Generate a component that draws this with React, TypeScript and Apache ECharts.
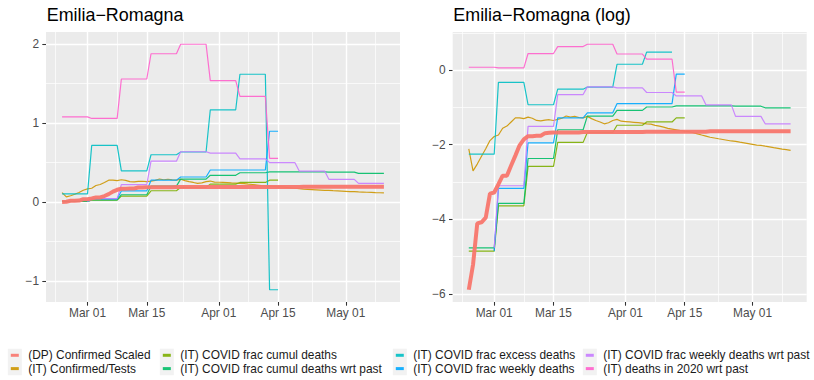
import React, { useEffect, useRef } from 'react';
import * as echarts from 'echarts';

// ---------- data ----------
const ORIGIN_DATE = '2020-03-01';
const FIRST_DATE = '2020-02-24';
const LAST_DATE = '2020-05-10';
const DEATHS_LAST_DATE = '2020-04-15';
const WEEKLY_FIRST_DATE = '2020-03-01';

const tickDates = ['2020-03-01', '2020-03-15', '2020-04-01', '2020-04-15', '2020-05-01'];
const tickLabels = ['Mar 01', 'Mar 15', 'Apr 01', 'Apr 15', 'May 01'];
const outerBreakDates = ['2020-02-15', '2020-05-15'];

const weekStartDates = [
  '2020-02-24', '2020-03-02', '2020-03-09', '2020-03-16', '2020-03-23', '2020-03-30',
  '2020-04-06', '2020-04-13', '2020-04-20', '2020-04-27', '2020-05-04',
];

const linTicks = [-1, 0, 1, 2];
const linMinor = [-0.5, 0.5, 1.5];
const logTicks = [-6, -4, -2, 0];
const logMinor = [-5, -3, -1, 1];

const seriesNames = [
  '(DP) Confirmed Scaled',
  '(IT) Confirmed/Tests',
  '(IT) COVID frac cumul deaths',
  '(IT) COVID frac cumul deaths wrt past',
  '(IT) COVID frac excess deaths',
  '(IT) COVID frac weekly deaths',
  '(IT) COVID frac weekly deaths wrt past',
  '(IT) deaths in 2020 wrt past',
];
const seriesColors = ['#F8766D', '#CD9600', '#7CAE00', '#00BE67', '#00BFC4', '#00A9FF', '#C77CFF', '#FF61CC'];

// daily, 2020-02-24 .. 2020-05-10
const confirmedScaled = [
  0.00277, 0.00541, 0.0164, 0.0169, 0.0191, 0.0365, 0.0376, 0.0469, 0.059, 0.059,
  0.0773, 0.101, 0.133, 0.156, 0.170, 0.170, 0.172, 0.172, 0.1845, 0.1864,
  0.1883, 0.1883, 0.1883, 0.1883, 0.1883, 0.1883, 0.1883,
  0.1901, 0.1901, 0.1901, 0.1901, 0.1901, 0.1901, 0.1901, 0.1901, 0.1901, 0.1901,
  0.1901, 0.1901, 0.1901, 0.1901, 0.1901,
  0.1920, 0.1920, 0.1920, 0.1920, 0.1920, 0.1920, 0.1920, 0.1920, 0.1920, 0.1920,
  0.1920, 0.1920, 0.1920, 0.1920, 0.1920,
  0.1940, 0.1940, 0.1940, 0.1940, 0.1940, 0.1940, 0.1940, 0.1940, 0.1940, 0.1940,
  0.1940, 0.1940, 0.1940, 0.1940, 0.1940, 0.1940, 0.1940, 0.1940, 0.1940, 0.1940,
];
const confirmedPerTests = [
  0.1212, 0.0672, 0.0805, 0.0993, 0.1212, 0.1511, 0.1686, 0.1755, 0.2101, 0.2231,
  0.2491, 0.2780, 0.2780, 0.2725, 0.2837, 0.2753, 0.2592, 0.2567, 0.2618, 0.2645,
  0.2592, 0.2671, 0.2753, 0.2923, 0.2837, 0.2894, 0.2808, 0.2780, 0.2894, 0.2725,
  0.2592, 0.2491, 0.2369, 0.2441, 0.2592, 0.2671, 0.2541, 0.2516, 0.2491, 0.2466,
  0.2441, 0.2417, 0.2369, 0.2346, 0.2276, 0.2231, 0.2165, 0.2101, 0.2060, 0.2019,
  0.1979, 0.1940, 0.1920, 0.1864, 0.1809, 0.1755, 0.1703, 0.1653, 0.1620, 0.1588,
  0.1557, 0.1526, 0.1496, 0.1481, 0.1451, 0.1423, 0.1395, 0.1367, 0.1340, 0.1327,
  0.1300, 0.1275, 0.1249, 0.1225, 0.1200, 0.1188, 0.1165,
];
// weekly values, one per week starting at weekStartDates
const covidFracCumulDeaths = [0.0078, 0.0263, 0.0758, 0.144, 0.188, 0.228, 0.249, 0.278];
const covidFracCumulDeathsWrtPast = [0.0085, 0.028, 0.0935, 0.202, 0.291, 0.34, 0.372, 0.383, 0.383, 0.38, 0.364];
const covidFracExcessDeaths = [0.105, 0.72, 0.395, 0.6, 0.635, 1.17, 1.62, -1.11];
const covidFracWeeklyDeaths = [0.0078, 0.042, 0.142, 0.278, 0.318, 0.407, 0.407, 0.898];
const covidFracWeeklyDeathsWrtPast = [0.0085, 0.045, 0.221, 0.519, 0.638, 0.62, 0.549, 0.5, 0.394, 0.289, 0.237];
const deathsIn2020WrtPast = [1.08, 1.06, 1.56, 1.88, 2.0, 1.54, 1.34, 0.555];

// ---------- helpers ----------
const FONT = "'Liberation Sans', Arial, Helvetica, sans-serif";
const dayOf = (d: string) => (Date.parse(d + 'T00:00:00Z') - Date.parse(ORIGIN_DATE + 'T00:00:00Z')) / 86400000;

function dailyPoints(values: number[], first: string): number[][] {
  const d0 = dayOf(first);
  return values.map((v, i) => [d0 + i, v]);
}
function weeklyPoints(values: number[], first: string, last: string): number[][] {
  const f = dayOf(first);
  const l = dayOf(last);
  const pts: number[][] = [];
  values.forEach((v, i) => {
    const ws = dayOf(weekStartDates[i]);
    const we = i + 1 < weekStartDates.length ? dayOf(weekStartDates[i + 1]) - 1 : ws + 6;
    const s = Math.max(ws, f);
    const e = Math.min(we, l);
    if (e < s) return;
    pts.push([s, v]);
    if (e > s) pts.push([e, v]);
  });
  return pts;
}

const seriesPoints: number[][][] = [
  dailyPoints(confirmedScaled, FIRST_DATE),
  dailyPoints(confirmedPerTests, FIRST_DATE),
  weeklyPoints(covidFracCumulDeaths, FIRST_DATE, DEATHS_LAST_DATE),
  weeklyPoints(covidFracCumulDeathsWrtPast, FIRST_DATE, LAST_DATE),
  weeklyPoints(covidFracExcessDeaths, FIRST_DATE, DEATHS_LAST_DATE),
  weeklyPoints(covidFracWeeklyDeaths, WEEKLY_FIRST_DATE, DEATHS_LAST_DATE),
  weeklyPoints(covidFracWeeklyDeathsWrtPast, WEEKLY_FIRST_DATE, LAST_DATE),
  weeklyPoints(deathsIn2020WrtPast, FIRST_DATE, DEATHS_LAST_DATE),
];
const logPoints = seriesPoints.map((pts) => pts.filter((p) => p[1] > 0).map((p) => [p[0], Math.log(p[1])]));

function expand(vals: number[]): [number, number] {
  const mn = Math.min(...vals);
  const mx = Math.max(...vals);
  const pad = (mx - mn) * 0.05;
  return [mn - pad, mx + pad];
}

const App: React.FC = () => {
  const ref = useRef<HTMLDivElement>(null);
  useEffect(() => {
    if (!ref.current) return;
    const chart = echarts.init(ref.current, undefined, { renderer: 'svg' });

    const xExt = expand([dayOf(FIRST_DATE), dayOf(LAST_DATE)]);
    const linExt = expand(seriesPoints.flat().map((p) => p[1]));
    const logExt = expand(logPoints.flat().map((p) => p[1]));

    const tickDays = tickDates.map(dayOf);
    const allBreaks = [outerBreakDates[0], ...tickDates, outerBreakDates[1]].map(dayOf);
    const minorDays: number[] = [];
    for (let i = 0; i + 1 < allBreaks.length; i++) {
      const m = (allBreaks[i] + allBreaks[i + 1]) / 2;
      if (m > xExt[0] && m < xExt[1]) minorDays.push(m);
    }
    const fmtNum = (v: number) => (v < 0 ? '\u2212' + Math.abs(v) : String(v));
    const fmtDate = (v: number) => {
      const i = tickDays.indexOf(v);
      return i >= 0 ? tickLabels[i] : '';
    };

    const gridLeft = [46, 452.7];
    const grids = gridLeft.map((l) => ({
      left: l, top: 32, width: 354, height: 270,
      show: true, backgroundColor: '#EBEBEB', borderWidth: 0,
    }));

    const xAxes = [0, 1].map((g) => ({
      type: 'value', gridIndex: g, min: xExt[0], max: xExt[1], position: 'bottom',
      axisLine: { show: false, onZero: false },
      splitLine: { show: false },
      axisTick: { show: true, customValues: tickDays, length: 3.7, lineStyle: { color: '#333333', width: 1.07 } },
      axisLabel: { customValues: tickDays, formatter: fmtDate, color: '#4D4D4D', fontSize: 11.9, fontFamily: FONT, margin: 5 },
    }));
    const yTickSets = [linTicks, logTicks];
    const yExts = [linExt, logExt];
    const yAxes = [0, 1].map((g) => ({
      type: 'value', gridIndex: g, min: yExts[g][0], max: yExts[g][1], position: 'left',
      axisLine: { show: false, onZero: false },
      splitLine: { show: false },
      axisTick: { show: true, customValues: yTickSets[g], length: 3.7, lineStyle: { color: '#333333', width: 1.07 } },
      axisLabel: { customValues: yTickSets[g], formatter: fmtNum, color: '#4D4D4D', fontSize: 11.9, fontFamily: FONT, margin: 7 },
    }));

    const gridSeries = [0, 1].map((g) => {
      const yMaj = yTickSets[g];
      const yMin = g === 0 ? linMinor : logMinor;
      const minorStyle = { color: '#FFFFFF', width: 0.7, type: 'solid' };
      const majorStyle = { color: '#FFFFFF', width: 1.4, type: 'solid' };
      return {
        type: 'line', xAxisIndex: g, yAxisIndex: g, data: [], silent: true, z: 1,
        markLine: {
          silent: true, z: 1, symbol: ['none', 'none'], label: { show: false },
          emphasis: { disabled: true }, animation: false,
          data: [
            ...minorDays.map((v) => ({ xAxis: v, lineStyle: minorStyle })),
            ...yMin.map((v) => ({ yAxis: v, lineStyle: minorStyle })),
            ...tickDays.map((v) => ({ xAxis: v, lineStyle: majorStyle })),
            ...yMaj.map((v) => ({ yAxis: v, lineStyle: majorStyle })),
          ],
        },
      };
    });

    const dataSeries: any[] = [];
    [0, 1].forEach((g) => {
      const src = g === 0 ? seriesPoints : logPoints;
      seriesNames.forEach((name, i) => {
        dataSeries.push({
          name, type: 'line', xAxisIndex: g, yAxisIndex: g, data: src[i],
          symbol: 'none', showSymbol: false, silent: true, z: i === 0 ? 3 : 2 + i * 0.01,
          emphasis: { disabled: true },
          itemStyle: { color: seriesColors[i] },
          lineStyle: { color: seriesColors[i], width: i === 0 ? 4 : 1.2, opacity: i === 0 ? 0.95 : 0.9 },
        });
      });
    });

    const colTextX = [28.3, 180.3, 413.3, 603.3];
    const rowCenter = [355.3, 368.6];
    const legends = seriesNames.map((name, i) => {
      const col = Math.floor(i / 2);
      const row = i % 2;
      const sq = colTextX[col] - 20.5;
      return {
        data: [{ name, icon: 'rect', itemStyle: { color: seriesColors[i], opacity: 0.9 } }],
        left: sq + 3, top: rowCenter[row] - 6.5, padding: 0,
        itemWidth: 8, itemHeight: 3, selectedMode: false, orient: 'horizontal',
        textStyle: {
          fontSize: 11.9, fontFamily: FONT, color: '#1A1A1A', lineHeight: 13,
          padding: [0, 0, 0, colTextX[col] - (sq + 3 + 8 + 5)],
        },
      };
    });
    const keyRects = seriesNames.map((_, i) => {
      const col = Math.floor(i / 2);
      const row = i % 2;
      return {
        type: 'rect', silent: true, z: 0,
        shape: { x: colTextX[col] - 20.5, y: rowCenter[row] - 6.65, width: 14, height: 13.3 },
        style: { fill: '#F2F2F2' },
      };
    });

    chart.setOption({
      animation: false,
      backgroundColor: '#FFFFFF',
      title: [
        { text: 'Emilia\u2212Romagna', left: 46.7, top: 4.5, padding: 0,
          textStyle: { fontSize: 17.9, fontWeight: 'normal', color: '#000000', fontFamily: FONT, lineHeight: 20 } },
        { text: 'Emilia\u2212Romagna (log)', left: 453.3, top: 4.5, padding: 0,
          textStyle: { fontSize: 17.9, fontWeight: 'normal', color: '#000000', fontFamily: FONT, lineHeight: 20 } },
      ],
      grid: grids,
      xAxis: xAxes,
      yAxis: yAxes,
      legend: legends,
      graphic: keyRects,
      series: [...gridSeries, ...dataSeries],
    });
    return () => chart.dispose();
  }, []);
  return (
    <div
      ref={ref}
      style={{ position: 'fixed', left: 0, top: 0, width: 814, height: 380, background: '#FFFFFF' }}
    />
  );
};

export default App;
